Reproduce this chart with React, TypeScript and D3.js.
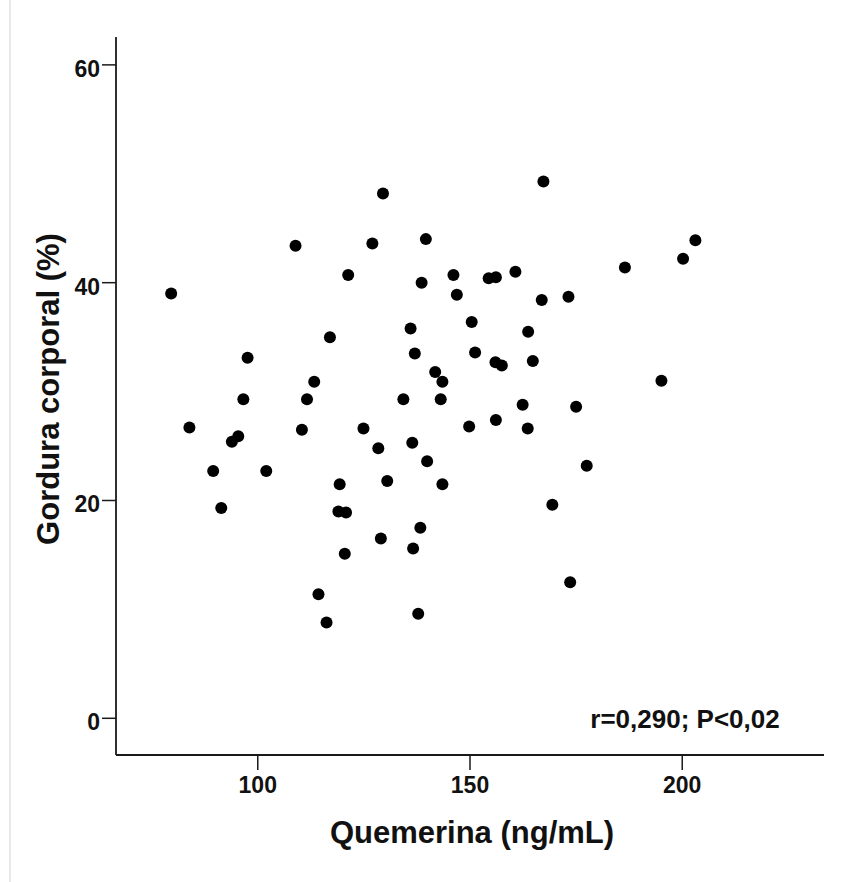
import React from "react";
import * as d3 from "d3";

const quemerina = [129.5,167.3,127.0,139.6,108.9,203.1,200.2,79.6,121.3,138.6,146.1,146.9,154.4,156.1,160.7,186.5,166.9,173.2,117.0,136.0,150.4,163.7,97.6,137.0,151.2,156.0,157.5,164.8,113.3,141.8,143.5,96.6,111.6,134.3,143.1,162.4,175.0,195.1,83.9,93.9,95.4,110.4,124.9,149.8,156.1,163.6,128.4,136.4,89.5,102.0,139.9,177.5,119.3,130.5,143.5,169.4,91.4,119.0,120.8,138.3,129.0,136.6,120.5,173.6,114.3,137.8,116.2];
const gordura = [48.2,49.3,43.6,44.0,43.4,43.9,42.2,39.0,40.7,40.0,40.7,38.9,40.4,40.5,41.0,41.4,38.4,38.7,35.0,35.8,36.4,35.5,33.1,33.5,33.6,32.7,32.4,32.8,30.9,31.8,30.9,29.3,29.3,29.3,29.3,28.8,28.6,31.0,26.7,25.4,25.9,26.5,26.6,26.8,27.4,26.6,24.8,25.3,22.7,22.7,23.6,23.2,21.5,21.8,21.5,19.6,19.3,19.0,18.9,17.5,16.5,15.6,15.1,12.5,11.4,9.6,8.8];

const xTicks = [100, 150, 200];
const yTicks = [0, 20, 40, 60];
const xTitle = "Quemerina (ng/mL)";
const yTitle = "Gordura corporal (%)";
const annotation = "r=0,290; P<0,02";

export default function App() {
  const W = 849, H = 882;
  const x = d3.scaleLinear().domain([66.6, 233.4]).range([116, 824]);
  const y = d3.scaleLinear().domain([-3.37, 62.56]).range([755, 37]);
  const font = "'Liberation Sans', Arial, sans-serif";
  const axisColor = "#1a1a1a";
  const pts = quemerina.map((v, i) => [v, gordura[i]]);
  return (
    <svg width={W} height={H} style={{ position: "absolute", left: 0, top: 0, background: "#fff" }}>
      <rect x={0} y={0} width={W} height={H} fill="#fff" />
      <line x1={10} x2={10} y1={0} y2={H} stroke="#e2e2e2" strokeWidth={1.5} />
      <line x1={x.range()[0]} x2={x.range()[0]} y1={y.range()[1]} y2={y.range()[0]} stroke={axisColor} strokeWidth={1.8} />
      <line x1={x.range()[0]} x2={x.range()[1]} y1={y.range()[0]} y2={y.range()[0]} stroke={axisColor} strokeWidth={1.8} />
      {yTicks.map((t) => (
        <g key={"y" + t}>
          <line x1={x.range()[0] - 14} x2={x.range()[0]} y1={y(t)} y2={y(t)} stroke={axisColor} strokeWidth={1.5} />
          <text x={x.range()[0] - 16} y={y(t) + 12} textAnchor="end" fontFamily={font} fontWeight="bold" fontSize={23} fill="#111">
            {t}
          </text>
        </g>
      ))}
      {xTicks.map((t) => (
        <g key={"x" + t}>
          <line x1={x(t)} x2={x(t)} y1={y.range()[0]} y2={y.range()[0] + 15} stroke={axisColor} strokeWidth={1.5} />
          <text x={x(t)} y={793} textAnchor="middle" fontFamily={font} fontWeight="bold" fontSize={23} fill="#111">
            {t}
          </text>
        </g>
      ))}
      {pts.map(([a, b], i) => (
        <circle key={i} cx={x(a)} cy={y(b)} r={6} fill="#000" />
      ))}
      <text x={472} y={843} textAnchor="middle" fontFamily={font} fontWeight="bold" fontSize={31} fill="#111">
        {xTitle}
      </text>
      <text transform={`translate(59,389) rotate(-90)`} textAnchor="middle" fontFamily={font} fontWeight="bold" fontSize={31} fill="#111">
        {yTitle}
      </text>
      <text x={685} y={728} textAnchor="middle" fontFamily={font} fontWeight="bold" fontSize={26} fill="#111">
        {annotation}
      </text>
    </svg>
  );
}
